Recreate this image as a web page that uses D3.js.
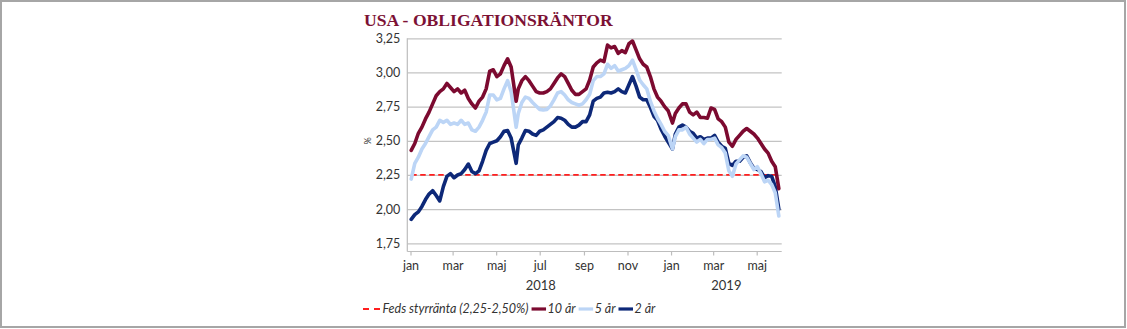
<!DOCTYPE html>
<html>
<head>
<meta charset="utf-8">
<script src="https://cdn.jsdelivr.net/npm/d3@7/dist/d3.min.js"></script>
<style>
  html, body { margin: 0; padding: 0; background: #ffffff; }
  svg { display: block; }
  text { font-family: Lato, "Open Sans", sans-serif; }
  text.title { font-family: "Liberation Serif", "DejaVu Serif", serif; font-weight: bold; }
</style>
</head>
<body>
<svg id="chart" width="1127" height="329"></svg>
<script>
// Observation dates (roughly every five days)
const dates = [
  "2018-01-02","2018-01-07","2018-01-12","2018-01-17","2018-01-22","2018-01-27",
  "2018-02-01","2018-02-06","2018-02-11","2018-02-16","2018-02-21","2018-02-26",
  "2018-03-03","2018-03-08","2018-03-13","2018-03-18","2018-03-23","2018-03-28",
  "2018-04-02","2018-04-07","2018-04-12","2018-04-17","2018-04-22","2018-04-27",
  "2018-05-02","2018-05-07","2018-05-12","2018-05-17","2018-05-22","2018-05-29",
  "2018-06-01","2018-06-06","2018-06-11","2018-06-16","2018-06-21","2018-06-26",
  "2018-07-01","2018-07-06","2018-07-11","2018-07-16","2018-07-21","2018-07-26","2018-07-31",
  "2018-08-05","2018-08-10","2018-08-15","2018-08-20","2018-08-25","2018-08-30",
  "2018-09-04","2018-09-09","2018-09-14","2018-09-19","2018-09-24","2018-09-29",
  "2018-10-04","2018-10-09","2018-10-14","2018-10-19","2018-10-24","2018-10-29",
  "2018-11-03","2018-11-08","2018-11-13","2018-11-18","2018-11-23","2018-11-28",
  "2018-12-03","2018-12-08","2018-12-13","2018-12-18","2018-12-23","2018-12-28",
  "2019-01-03","2019-01-07","2019-01-12","2019-01-17","2019-01-22","2019-01-27",
  "2019-02-01","2019-02-06","2019-02-11","2019-02-16","2019-02-21","2019-02-26",
  "2019-03-03","2019-03-08","2019-03-13","2019-03-18","2019-03-23","2019-03-28",
  "2019-04-02","2019-04-07","2019-04-12","2019-04-17","2019-04-22","2019-04-27",
  "2019-05-02","2019-05-07","2019-05-12","2019-05-17","2019-05-22","2019-05-27",
  "2019-06-01"
];

// 10-year treasury yield, %
const y10 = [
  2.43,2.48,2.555,2.60,2.66,2.71,
  2.77,2.83,2.86,2.88,2.92,2.89,
  2.86,2.88,2.85,2.87,2.81,2.77,
  2.74,2.79,2.82,2.88,3.01,3.02,
  2.97,2.99,3.05,3.10,3.04,2.79,
  2.88,2.94,2.97,2.94,2.90,2.86,
  2.85,2.85,2.86,2.88,2.92,2.96,2.99,
  2.97,2.92,2.87,2.84,2.84,2.86,
  2.88,2.945,3.04,3.07,3.09,3.08,
  3.20,3.18,3.19,3.14,3.16,3.145,
  3.21,3.23,3.165,3.10,3.06,3.04,
  2.97,2.88,2.82,2.79,2.75,2.72,
  2.63,2.70,2.74,2.77,2.77,2.71,
  2.69,2.71,2.67,2.67,2.665,2.74,
  2.73,2.66,2.64,2.60,2.49,2.46,
  2.51,2.54,2.57,2.59,2.57,2.55,
  2.52,2.48,2.44,2.41,2.35,2.31,
  2.15
];

// 5-year treasury yield, %
const y5 = [
  2.22,2.335,2.38,2.44,2.48,2.53,
  2.58,2.60,2.65,2.635,2.65,2.62,
  2.63,2.62,2.65,2.62,2.63,2.58,
  2.57,2.60,2.65,2.71,2.835,2.835,
  2.80,2.81,2.88,2.94,2.86,2.60,
  2.70,2.78,2.82,2.81,2.78,2.755,
  2.73,2.725,2.73,2.755,2.80,2.85,2.86,
  2.835,2.80,2.78,2.77,2.76,2.77,
  2.80,2.84,2.94,2.97,2.97,2.99,
  3.06,3.03,3.05,3.01,3.02,3.03,
  3.05,3.09,3.02,2.945,2.91,2.88,
  2.79,2.72,2.665,2.62,2.57,2.54,
  2.44,2.53,2.58,2.58,2.60,2.55,
  2.52,2.49,2.51,2.48,2.51,2.51,
  2.52,2.47,2.45,2.41,2.28,2.24,
  2.33,2.36,2.39,2.38,2.335,2.29,
  2.31,2.26,2.20,2.21,2.18,2.12,
  1.95
];

// 2-year treasury yield, %
const y2 = [
  1.925,1.96,1.98,2.02,2.07,2.11,
  2.135,2.10,2.06,2.165,2.24,2.26,
  2.23,2.25,2.26,2.29,2.33,2.275,
  2.26,2.28,2.35,2.43,2.48,2.49,
  2.50,2.53,2.57,2.575,2.52,2.335,
  2.47,2.52,2.575,2.57,2.55,2.54,
  2.57,2.58,2.60,2.62,2.64,2.67,2.665,
  2.65,2.62,2.60,2.60,2.615,2.64,
  2.64,2.69,2.79,2.81,2.82,2.85,
  2.855,2.85,2.86,2.88,2.86,2.85,
  2.91,2.97,2.90,2.82,2.80,2.80,
  2.745,2.68,2.65,2.585,2.535,2.49,
  2.44,2.55,2.60,2.615,2.60,2.57,
  2.555,2.52,2.53,2.51,2.52,2.52,
  2.54,2.49,2.46,2.445,2.335,2.32,
  2.35,2.35,2.38,2.39,2.34,2.30,
  2.29,2.275,2.23,2.245,2.24,2.165,
  2.00
];

// Fed funds target range floor, %
const fedRate = 2.25;

// Axis ticks
const yTicks = [1.75, 2.00, 2.25, 2.50, 2.75, 3.00, 3.25];
const monthTicks = ["2018-01-01","2018-03-01","2018-05-01","2018-07-01","2018-09-01","2018-11-01",
                    "2019-01-01","2019-03-01","2019-05-01"];
const monthLabels = ["jan","mar","maj","jul","sep","nov","jan","mar","maj"];
const years = ["2018","2019"];

const titleText = "USA - OBLIGATIONSRÄNTOR";
const legendLabels = ["Feds styrränta (2,25-2,50%)", "10 år", "5 år", "2 år"];

const colors = {
  fed: "#ff1f1f",
  y10: "#7c0a30",
  y5: "#bcd5f6",
  y2: "#0d2878",
  grid: "#c3c3c3",
  axis: "#bdbdbd",
  text: "#333333",
  title: "#7c1134",
  frame: "#a6a6a6"
};

const parse = d3.timeParse("%Y-%m-%d");
const svg = d3.select("#chart");

// Outer frame
svg.append("rect")
  .attr("x", 1).attr("y", 1).attr("width", 1124).attr("height", 326)
  .attr("fill", "#fff").attr("stroke", colors.frame).attr("stroke-width", 2);

// Plot geometry
const plotLeft = 407.3, plotRight = 781.7, plotTop = 38.3, plotBottom = 243.3, axisY = 251.5;

const x = d3.scaleTime()
  .domain([parse("2018-01-01"), parse("2019-05-01")])
  .range([410.5, 756.7]);
const y = d3.scaleLinear().domain([1.75, 3.25]).range([plotBottom, plotTop]);

const sv = d3.formatLocale({ decimal: ",", thousands: " ", grouping: [3], currency: ["", " kr"] });
const fmt = sv.format(".2f");

// Title
svg.append("text")
  .attr("class", "title")
  .attr("x", 364).attr("y", 25.5)
  .attr("font-size", 17.6)
  .attr("fill", colors.title)
  .text(titleText);

// Y axis with gridlines
const yAxis = svg.append("g")
  .attr("transform", `translate(${plotLeft},0)`)
  .call(d3.axisLeft(y).tickValues(yTicks).tickFormat(fmt)
    .tickSize(-(plotRight - plotLeft)).tickPadding(7));
yAxis.select(".domain").remove();
yAxis.selectAll(".tick line").attr("stroke", colors.grid).attr("stroke-width", 1.2);
yAxis.selectAll(".tick text").attr("font-size", 12.5).attr("fill", colors.text);

// Vertical axis line
svg.append("line")
  .attr("x1", plotLeft).attr("x2", plotLeft).attr("y1", plotTop).attr("y2", axisY)
  .attr("stroke", colors.axis).attr("stroke-width", 1.2);

// Unit label
svg.append("text")
  .attr("transform", `translate(371,141) rotate(-90)`)
  .attr("text-anchor", "middle")
  .attr("font-size", 9).attr("fill", colors.text)
  .text("%");

// X axis
const xAxis = svg.append("g")
  .attr("transform", `translate(0,${axisY})`)
  .call(d3.axisBottom(x).tickValues(monthTicks.map(parse))
    .tickFormat((d, i) => monthLabels[i]).tickSize(4).tickSizeOuter(0).tickPadding(6));
xAxis.select(".domain").remove();
xAxis.selectAll(".tick line").attr("stroke", colors.axis).attr("stroke-width", 1.2);
xAxis.selectAll(".tick text").attr("font-size", 12.5).attr("fill", colors.text);
svg.append("line")
  .attr("x1", plotLeft).attr("x2", plotRight).attr("y1", axisY).attr("y2", axisY)
  .attr("stroke", colors.axis).attr("stroke-width", 1.2);

// Year labels centred under each year's span
const yearStart = [parse("2018-01-01"), parse("2019-01-01")];
const yearCenters = [(x(yearStart[0]) + x(yearStart[1])) / 2, (x(yearStart[1]) + plotRight) / 2];
svg.selectAll(".year").data(years).join("text")
  .attr("class", "year")
  .attr("x", (d, i) => yearCenters[i]).attr("y", 290)
  .attr("text-anchor", "middle")
  .attr("font-size", 13).attr("fill", colors.text)
  .text(d => d);

// Series
const pts = vals => dates.map((d, i) => ({ date: parse(d), v: vals[i] }));
const line = d3.line().x(d => x(d.date)).y(d => y(d.v));

svg.append("path")
  .datum(dates.map(d => ({ date: parse(d), v: fedRate })))
  .attr("d", line).attr("fill", "none")
  .attr("stroke", colors.fed).attr("stroke-width", 1.8).attr("stroke-dasharray", "5.5,3.5");

const series = [
  { vals: y2, color: colors.y2 },
  { vals: y5, color: colors.y5 },
  { vals: y10, color: colors.y10 }
];
series.forEach(s => {
  svg.append("path")
    .datum(pts(s.vals))
    .attr("d", line).attr("fill", "none")
    .attr("stroke", s.color).attr("stroke-width", 3.6)
    .attr("stroke-linejoin", "round").attr("stroke-linecap", "round");
});

// Legend
const legend = svg.append("g").attr("font-style", "italic").attr("font-size", 12.5).attr("fill", colors.text);
const legendItems = [
  { label: legendLabels[0], color: colors.fed, dash: true },
  { label: legendLabels[1], color: colors.y10 },
  { label: legendLabels[2], color: colors.y5 },
  { label: legendLabels[3], color: colors.y2 }
];
let lx = 363;
const ly = 309;
legendItems.forEach((it, i) => {
  const sw = it.dash ? 18 : 14.5;
  legend.append("line")
    .attr("x1", lx).attr("x2", lx + sw).attr("y1", ly).attr("y2", ly)
    .attr("stroke", it.color)
    .attr("stroke-width", it.dash ? 1.8 : 3.2)
    .attr("stroke-dasharray", it.dash ? "6,5" : null);
  lx += sw + 1.5;
  const t = legend.append("text").attr("x", lx).attr("y", ly + 4.3).text(it.label);
  lx += t.node().getComputedTextLength() + 3;
});
</script>
</body>
</html>
